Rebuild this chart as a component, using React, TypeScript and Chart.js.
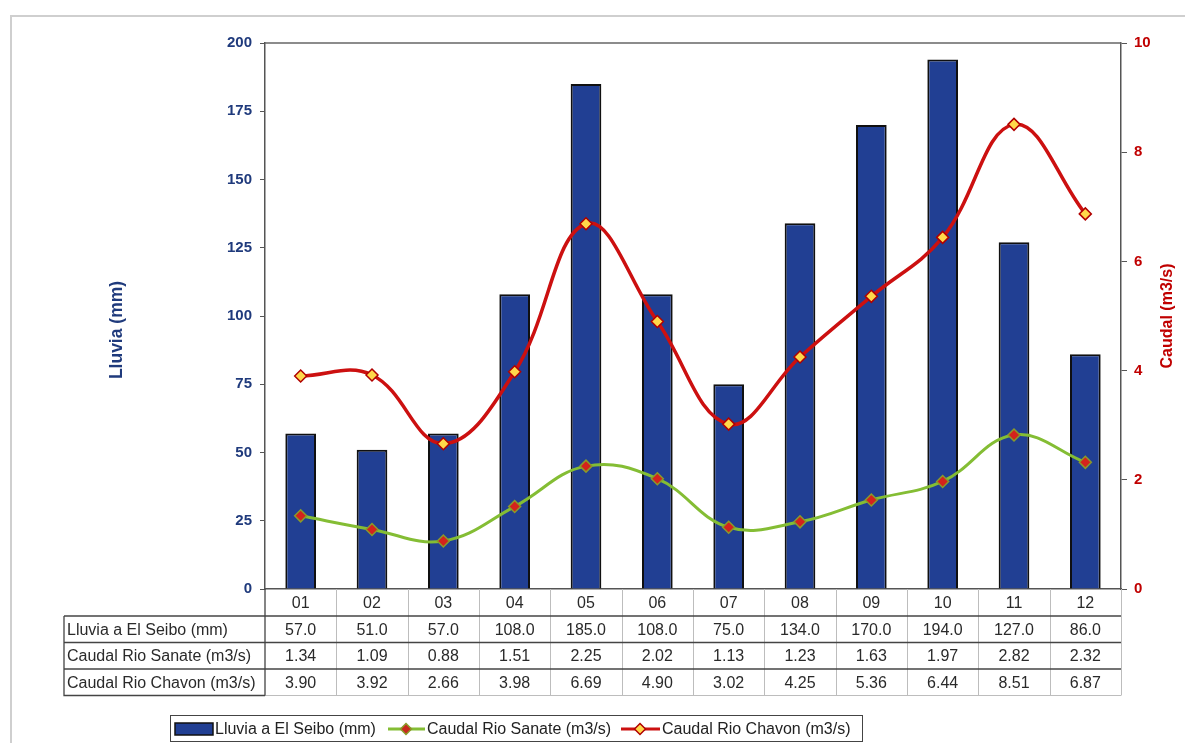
import React, { useEffect, useRef } from "react";
import { Chart, registerables } from "chart.js";

Chart.register(...registerables);

// Monthly rainfall at El Seibo and river flows
const MONTHS = ["01", "02", "03", "04", "05", "06", "07", "08", "09", "10", "11", "12"];
const LLUVIA = [57.0, 51.0, 57.0, 108.0, 185.0, 108.0, 75.0, 134.0, 170.0, 194.0, 127.0, 86.0];
const SANATE = [1.34, 1.09, 0.88, 1.51, 2.25, 2.02, 1.13, 1.23, 1.63, 1.97, 2.82, 2.32];
const CHAVON = [3.9, 3.92, 2.66, 3.98, 6.69, 4.9, 3.02, 4.25, 5.36, 6.44, 8.51, 6.87];

const SERIES_NAMES = ["Lluvia a El Seibo (mm)", "Caudal Rio Sanate (m3/s)", "Caudal Rio Chavon (m3/s)"];
const LEFT_TITLE = "Lluvia (mm)";
const RIGHT_TITLE = "Caudal (m3/s)";

const W = 1185;
const H = 743;
const FONT = "'Liberation Sans', Arial, sans-serif";
const BLUE_TEXT = "#1f3a7c";
const RED_TEXT = "#c00000";
const BAR_FILL = "#213f93";
const GREEN = "#84bd34";
const RED = "#cc1010";

function diamond(ctx: CanvasRenderingContext2D, x: number, y: number, r: number, fill: string, stroke: string) {
  ctx.beginPath();
  ctx.moveTo(x, y - r);
  ctx.lineTo(x + r, y);
  ctx.lineTo(x, y + r);
  ctx.lineTo(x - r, y);
  ctx.closePath();
  ctx.fillStyle = fill;
  ctx.fill();
  ctx.lineWidth = 1.5;
  ctx.strokeStyle = stroke;
  ctx.stroke();
}

const decorPlugin = {
  id: "decor",
  beforeDraw(chart: any) {
    const ctx = chart.ctx as CanvasRenderingContext2D;
    ctx.save();
    ctx.fillStyle = "#ffffff";
    ctx.fillRect(0, 0, W, H);
    // outer frame
    ctx.strokeStyle = "#cfcfcf";
    ctx.lineWidth = 2;
    ctx.strokeRect(11, 16, 1300, 900);
    ctx.restore();
  },
  afterDraw(chart: any) {
    const ctx = chart.ctx as CanvasRenderingContext2D;
    const area = chart.chartArea;
    const x = chart.scales.x;
    ctx.save();

    // top edge of plot area
    ctx.strokeStyle = "#666";
    ctx.lineWidth = 1.5;
    ctx.beginPath();
    ctx.moveTo(area.left, area.top);
    ctx.lineTo(area.right, area.top);
    ctx.stroke();

    // data table
    const half = (area.right - area.left) / MONTHS.length / 2;
    const labelLeft = 64;
    const rows = [area.bottom, 616, 642.5, 669, 695.5];
    const lightGrid = "#bdbdbd";
    const darkGrid = "#444";

    // vertical separators between months
    ctx.lineWidth = 1;
    ctx.strokeStyle = lightGrid;
    for (let i = 1; i <= MONTHS.length; i++) {
      const px = Math.round(x.getPixelForValue(i - 1) + half) + 0.5;
      ctx.beginPath();
      ctx.moveTo(px, rows[0]);
      ctx.lineTo(px, rows[4]);
      ctx.stroke();
    }
    // bottom line of the value cells
    ctx.beginPath();
    ctx.moveTo(area.left, rows[4]);
    ctx.lineTo(area.right, rows[4]);
    ctx.stroke();

    // horizontal row lines
    ctx.strokeStyle = darkGrid;
    ctx.lineWidth = 1.3;
    for (let r = 1; r <= 3; r++) {
      ctx.beginPath();
      ctx.moveTo(labelLeft, rows[r]);
      ctx.lineTo(area.right, rows[r]);
      ctx.stroke();
    }
    // label column box
    ctx.beginPath();
    ctx.moveTo(labelLeft, rows[1]);
    ctx.lineTo(labelLeft, rows[4]);
    ctx.lineTo(area.left, rows[4]);
    ctx.moveTo(area.left, rows[0]);
    ctx.lineTo(area.left, rows[4]);
    ctx.stroke();

    // table text
    ctx.fillStyle = "#2a2a2a";
    ctx.font = `16px ${FONT}`;
    ctx.textBaseline = "middle";
    ctx.textAlign = "center";
    MONTHS.forEach((m, i) => {
      ctx.fillText(m, x.getPixelForValue(i), (rows[0] + rows[1]) / 2 + 1);
    });
    const tableRows = [
      LLUVIA.map((v) => v.toFixed(1)),
      SANATE.map((v) => v.toFixed(2)),
      CHAVON.map((v) => v.toFixed(2)),
    ];
    tableRows.forEach((vals, r) => {
      const cy = (rows[r + 1] + rows[r + 2]) / 2 + 1;
      ctx.textAlign = "left";
      ctx.fillText(SERIES_NAMES[r], labelLeft + 3, cy);
      ctx.textAlign = "center";
      vals.forEach((v, i) => ctx.fillText(v, x.getPixelForValue(i), cy));
    });

    // axis titles
    ctx.textAlign = "center";
    ctx.textBaseline = "middle";
    ctx.save();
    ctx.font = `bold 17.5px ${FONT}`;
    ctx.translate(117, 330);
    ctx.rotate(-Math.PI / 2);
    ctx.fillStyle = BLUE_TEXT;
    ctx.fillText(LEFT_TITLE, 0, 0);
    ctx.restore();
    ctx.save();
    ctx.font = `bold 16px ${FONT}`;
    ctx.translate(1168, 316);
    ctx.rotate(-Math.PI / 2);
    ctx.fillStyle = RED_TEXT;
    ctx.fillText(RIGHT_TITLE, 0, 0);
    ctx.restore();

    // legend
    const ly = 729;
    ctx.strokeStyle = "#444";
    ctx.lineWidth = 1;
    ctx.strokeRect(170.5, 715.5, 692, 26);
    ctx.font = `16px ${FONT}`;
    ctx.textAlign = "left";
    ctx.textBaseline = "middle";

    ctx.fillStyle = BAR_FILL;
    ctx.fillRect(175, 723, 38, 12);
    ctx.strokeStyle = "#111";
    ctx.lineWidth = 1.5;
    ctx.strokeRect(175, 723, 38, 12);
    ctx.fillStyle = "#222";
    ctx.fillText(SERIES_NAMES[0], 215, ly + 1);

    ctx.strokeStyle = GREEN;
    ctx.lineWidth = 3;
    ctx.beginPath();
    ctx.moveTo(388, ly);
    ctx.lineTo(425, ly);
    ctx.stroke();
    diamond(ctx, 406, ly, 5.5, "#c8281e", "#8a9a2a");
    ctx.fillStyle = "#222";
    ctx.fillText(SERIES_NAMES[1], 427, ly + 1);

    ctx.strokeStyle = RED;
    ctx.lineWidth = 3;
    ctx.beginPath();
    ctx.moveTo(621, ly);
    ctx.lineTo(660, ly);
    ctx.stroke();
    diamond(ctx, 640, ly, 5.5, "#ffd84a", "#b00000");
    ctx.fillStyle = "#222";
    ctx.fillText(SERIES_NAMES[2], 662, ly + 1);

    ctx.restore();
  },
};

export default function App() {
  const ref = useRef<HTMLCanvasElement | null>(null);

  useEffect(() => {
    if (!ref.current) return;
    const chart = new Chart(ref.current, {
      type: "bar",
      data: {
        labels: MONTHS,
        datasets: [
          {
            type: "bar",
            label: SERIES_NAMES[0],
            data: LLUVIA,
            yAxisID: "y",
            backgroundColor: BAR_FILL,
            borderColor: "#101010",
            borderWidth: 2,
            barPercentage: 0.43,
            categoryPercentage: 1,
            order: 3,
          },
          {
            type: "line",
            label: SERIES_NAMES[1],
            data: SANATE,
            yAxisID: "y1",
            borderColor: GREEN,
            borderWidth: 3,
            tension: 0.4,
            pointStyle: "rectRot",
            pointRadius: 6,
            pointBackgroundColor: "#d4231c",
            pointBorderColor: "#8a9a2a",
            pointBorderWidth: 1.5,
            order: 2,
          },
          {
            type: "line",
            label: SERIES_NAMES[2],
            data: CHAVON,
            yAxisID: "y1",
            borderColor: RED,
            borderWidth: 3.5,
            tension: 0.4,
            pointStyle: "rectRot",
            pointRadius: 6,
            pointBackgroundColor: "#ffd84a",
            pointBorderColor: "#b00000",
            pointBorderWidth: 1.5,
            order: 1,
          },
        ],
      },
      options: {
        responsive: false,
        animation: false,
        layout: { padding: { top: 43, left: 0, right: 0, bottom: 0 } },
        plugins: {
          legend: { display: false },
          tooltip: { enabled: false },
          title: { display: false },
        },
        scales: {
          x: {
            type: "category",
            offset: true,
            grid: { display: false, drawTicks: false },
            ticks: { display: false },
            border: { display: true, color: "#555", width: 1.5 },
            afterFit: (s: any) => {
              s.height = H - 589;
            },
          },
          y: {
            type: "linear",
            position: "left",
            min: 0,
            max: 200,
            ticks: {
              stepSize: 25,
              color: BLUE_TEXT,
              font: { family: FONT, size: 15, weight: "bold" },
              padding: 8,
            },
            grid: { drawOnChartArea: false, drawTicks: true, tickLength: 5, color: "#555" },
            border: { display: true, color: "#555", width: 1.5 },
            afterFit: (s: any) => {
              s.width = 265;
            },
          },
          y1: {
            type: "linear",
            position: "right",
            min: 0,
            max: 10,
            ticks: {
              stepSize: 2,
              color: RED_TEXT,
              font: { family: FONT, size: 15, weight: "bold" },
              padding: 7,
            },
            grid: { drawOnChartArea: false, drawTicks: true, tickLength: 6, color: "#555" },
            border: { display: true, color: "#555", width: 1.5 },
            afterFit: (s: any) => {
              s.width = W - 1121;
            },
          },
        },
      },
      plugins: [decorPlugin],
    } as any);
    return () => chart.destroy();
  }, []);

  return (
    <div style={{ position: "absolute", left: 0, top: 0, width: W, height: H }}>
      <canvas ref={ref} width={W} height={H} style={{ width: W, height: H, display: "block" }} />
    </div>
  );
}
